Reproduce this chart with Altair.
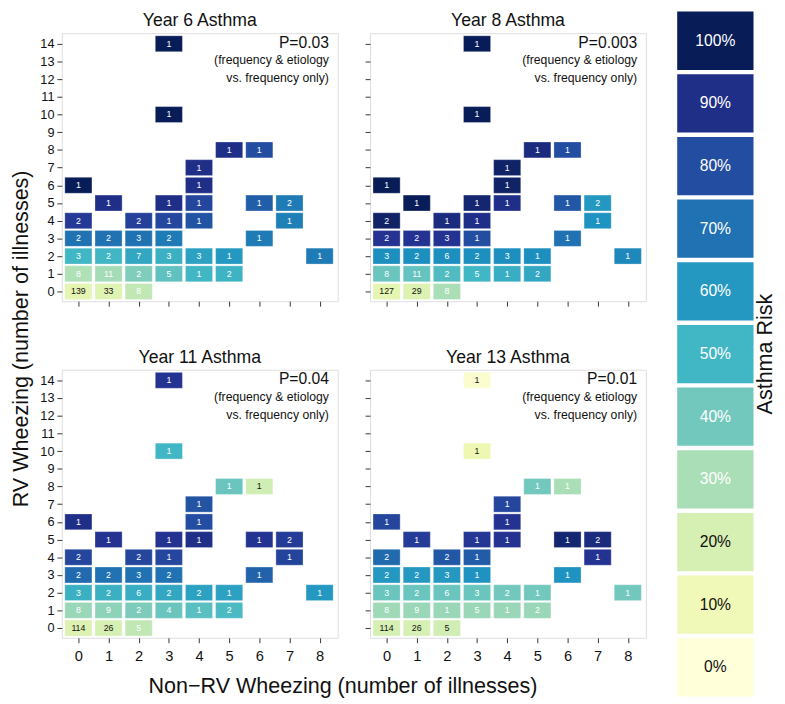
import altair as alt
import pandas as pd

# ---- data ----
PANEL_TITLES = ["Year 6 Asthma", "Year 8 Asthma", "Year 11 Asthma", "Year 13 Asthma"]
P_VALUES = ["P=0.03", "P=0.003", "P=0.04", "P=0.01"]
NOTE_LINES = ["(frequency & etiology", "vs. frequency only)"]

X_CELLS = [3, 3, 5, 6, 4, 0, 4, 1, 3, 4, 6, 7, 0, 2, 3, 4, 7, 0, 1, 2, 3, 6,
           0, 1, 2, 3, 4, 5, 8, 0, 1, 2, 3, 4, 5, 0, 1, 2]
Y_CELLS = [14, 10, 8, 8, 7, 6, 6, 5, 5, 5, 5, 5, 4, 4, 4, 4, 4, 3, 3, 3, 3, 3,
           2, 2, 2, 2, 2, 2, 2, 1, 1, 1, 1, 1, 1, 0, 0, 0]

COUNTS_Y6 = [1, 1, 1, 1, 1, 1, 1, 1, 1, 1, 1, 2, 2, 2, 1, 1, 1, 2, 2, 3, 2, 1,
             3, 2, 7, 3, 3, 1, 1, 8, 11, 2, 5, 1, 2, 139, 33, 8]
COUNTS_Y8 = [1, 1, 1, 1, 1, 1, 1, 1, 1, 1, 1, 2, 2, 1, 1, None, 1, 2, 2, 3, 1, 1,
             3, 2, 6, 2, 3, 1, 1, 8, 11, 2, 5, 1, 2, 127, 29, 8]
COUNTS_Y11 = [1, 1, 1, 1, 1, 1, 1, 1, 1, 1, 1, 2, 2, 2, 1, None, 1, 2, 2, 3, 2, 1,
              3, 2, 6, 2, 2, 1, 1, 8, 9, 2, 4, 1, 2, 114, 26, 5]
COUNTS_Y13 = [1, 1, 1, 1, 1, 1, 1, 1, 1, 1, 1, 2, 2, 2, 1, None, 1, 2, 2, 3, 1, 1,
              3, 2, 6, 3, 2, 1, 1, 8, 9, 1, 5, 1, 2, 114, 26, 5]

RISK_Y6 = [1.0, 1.0, 0.9, 0.8, 0.9, 1.0, 0.9, 0.9, 0.9, 0.82, 0.75, 0.68,
           0.86, 0.84, 0.82, 0.78, 0.67, 0.7, 0.7, 0.7, 0.68, 0.68,
           0.5, 0.5, 0.55, 0.52, 0.57, 0.6, 0.68,
           0.29, 0.31, 0.375, 0.44, 0.5, 0.51, 0.15, 0.17, 0.26]
RISK_Y8 = [1.0, 1.0, 0.92, 0.8, 0.97, 1.0, 0.97, 1.0, 0.95, 0.9, 0.77, 0.6,
           0.97, 0.92, 0.9, None, 0.62, 0.88, 0.88, 0.88, 0.8, 0.7,
           0.63, 0.63, 0.63, 0.63, 0.63, 0.63, 0.65,
           0.42, 0.43, 0.47, 0.5, 0.53, 0.55, 0.15, 0.18, 0.3]
RISK_Y11 = [0.88, 0.5, 0.42, 0.22, 0.78, 0.9, 0.8, 0.88, 0.88, 0.9, 0.88, 0.85,
            0.82, 0.82, 0.82, None, 0.83, 0.72, 0.7, 0.7, 0.7, 0.74,
            0.52, 0.52, 0.53, 0.55, 0.57, 0.57, 0.6,
            0.33, 0.35, 0.38, 0.42, 0.45, 0.48, 0.18, 0.2, 0.26]
RISK_Y13 = [0.03, 0.12, 0.4, 0.3, 0.82, 0.82, 0.88, 0.85, 0.87, 0.88, 0.95, 0.92,
            0.72, 0.77, 0.76, None, 0.88, 0.6, 0.6, 0.6, 0.62, 0.62,
            0.42, 0.42, 0.42, 0.42, 0.4, 0.4, 0.4,
            0.32, 0.33, 0.33, 0.33, 0.33, 0.33, 0.2, 0.2, 0.22]

COUNTS = [COUNTS_Y6, COUNTS_Y8, COUNTS_Y11, COUNTS_Y13]
RISKS = [RISK_Y6, RISK_Y8, RISK_Y11, RISK_Y13]

X_TICKS = [0, 1, 2, 3, 4, 5, 6, 7, 8]
Y_TICKS = list(range(0, 15))

LEGEND_LEVELS = [1.0, 0.9, 0.8, 0.7, 0.6, 0.5, 0.4, 0.3, 0.2, 0.1, 0.0]
LEGEND_LABELS = ["100%", "90%", "80%", "70%", "60%", "50%", "40%", "30%", "20%", "10%", "0%"]
LEGEND_TITLE = ["Asthma Risk"]

YLGNBU = ["#ffffd9", "#edf8b1", "#c7e9b4", "#7fcdbb", "#41b6c4",
          "#1d91c0", "#225ea8", "#253494", "#081d58"]

FONT = "Liberation Sans"
color_scale = alt.Scale(domain=[i / 8 for i in range(9)], range=YLGNBU, interpolate="rgb")
xs = alt.Scale(domain=[-0.55, 8.6], nice=False, zero=False)
ys = alt.Scale(domain=[-0.55, 14.6], nice=False, zero=False)
PW, PH = 282, 274
TITLE_Y = -12


def panel(i, show_x, show_y):
    df = pd.DataFrame({"x": X_CELLS, "y": Y_CELLS, "n": COUNTS[i], "risk": RISKS[i]}).dropna()
    base = alt.Chart(df)
    xaxis = alt.Axis(values=X_TICKS, labels=show_x, title=None, grid=False, domain=False,
                     tickColor="#333", tickSize=5, labelFontSize=15, labelColor="#111",
                     labelPadding=6, labelFont=FONT, labelOverlap=False)
    yaxis = alt.Axis(values=Y_TICKS, labels=show_y, title=None, grid=False, domain=False,
                     tickColor="#333", tickSize=5, labelFontSize=13, labelColor="#111",
                     labelPadding=3, labelFont=FONT, labelOverlap=False)
    rect = base.transform_calculate(
        x0="datum.x - 0.45", x1="datum.x + 0.45",
        y0="datum.y - 0.45", y1="datum.y + 0.45"
    ).mark_rect(stroke="white", strokeWidth=0.6, strokeOpacity=0.5).encode(
        x=alt.X("x0:Q", scale=xs, axis=xaxis),
        x2="x1:Q",
        y=alt.Y("y0:Q", scale=ys, axis=yaxis),
        y2="y1:Q",
        color=alt.Color("risk:Q", scale=color_scale, legend=None),
    )
    text = base.mark_text(fontSize=9, font=FONT).encode(
        x=alt.X("x:Q", scale=xs, axis=xaxis),
        y=alt.Y("y:Q", scale=ys, axis=yaxis),
        text=alt.Text("n:Q", format="d"),
        color=alt.condition("datum.risk < 0.24", alt.value("#111"), alt.value("white")),
    )
    note_df = pd.DataFrame({"t": [PANEL_TITLES[i], P_VALUES[i]] + NOTE_LINES, "k": [0, 1, 2, 3]})
    nb = alt.Chart(note_df)
    ttl = nb.transform_filter("datum.k == 0").mark_text(
        align="center", baseline="middle", fontSize=18, font=FONT, color="#111"
    ).encode(x=alt.value(PW / 2), y=alt.value(TITLE_Y), text="t:N")
    pnote = nb.transform_filter("datum.k == 1").mark_text(
        align="right", baseline="middle", fontSize=16, font=FONT, color="#111"
    ).encode(x=alt.value(PW - 9), y=alt.value(10), text="t:N")
    n1 = nb.transform_filter("datum.k == 2").mark_text(
        align="right", baseline="middle", fontSize=12.5, font=FONT, color="#111"
    ).encode(x=alt.value(PW - 9), y=alt.value(28), text="t:N")
    n2 = nb.transform_filter("datum.k == 3").mark_text(
        align="right", baseline="middle", fontSize=12.5, font=FONT, color="#111"
    ).encode(x=alt.value(PW - 9), y=alt.value(46), text="t:N")
    return alt.layer(rect, text, ttl, pnote, n1, n2).properties(width=PW, height=PH)


row1 = alt.hconcat(panel(0, False, True), panel(1, False, False), spacing=26)
row2 = alt.hconcat(panel(2, True, True), panel(3, True, False), spacing=26)

grid = alt.vconcat(
    row1, row2, spacing=42,
    title=alt.Title("Non\u2212RV Wheezing (number of illnesses)", orient="bottom", anchor="middle",
                    fontSize=22, fontWeight="normal", font=FONT, color="#111", offset=13),
)
grid_y = alt.hconcat(
    grid,
    title=alt.Title("RV Wheezing (number of illnesses)", orient="left", anchor="middle",
                    fontSize=22, fontWeight="normal", font=FONT, color="#111", offset=7, dx=16),
)

# legend column; its band range starts above the view top so that it lines up
# with the top of the panel titles (rows align on view origins)
LTOP, LBOT = -22, 678
leg_df = pd.DataFrame({"risk": LEGEND_LEVELS, "label": LEGEND_LABELS})
leg_base = alt.Chart(leg_df)
ly = alt.Y("label:N", sort=LEGEND_LABELS, axis=None,
           scale=alt.Scale(paddingInner=0.07, paddingOuter=0.0, range=[LTOP, LBOT]))
leg_rect = leg_base.mark_rect().encode(
    y=ly, x=alt.value(0), x2=alt.value(78),
    color=alt.Color("risk:Q", scale=color_scale, legend=None),
)
leg_text = leg_base.mark_text(fontSize=16, font=FONT).encode(
    y=ly, x=alt.value(39), text="label:N",
    color=alt.condition("datum.risk < 0.25", alt.value("#111"), alt.value("white")),
)
leg_title = alt.Chart(pd.DataFrame({"t": LEGEND_TITLE})).mark_text(
    fontSize=22, font=FONT, color="#111", angle=270, align="center", baseline="middle"
).encode(x=alt.value(90), y=alt.value((LTOP + LBOT) / 2), text="t:N")
legend = alt.layer(leg_rect, leg_text, leg_title).properties(
    width=100, height=LBOT - 30, view=alt.ViewBackground(stroke="transparent")
)

chart = alt.hconcat(grid_y, legend, spacing=30).configure_view(
    stroke="#333", strokeWidth=1
).configure(font=FONT, padding={"left": 2, "top": -5, "right": 0, "bottom": 0})

chart.save("out.html", embed_options={"renderer": "svg", "actions": False})
